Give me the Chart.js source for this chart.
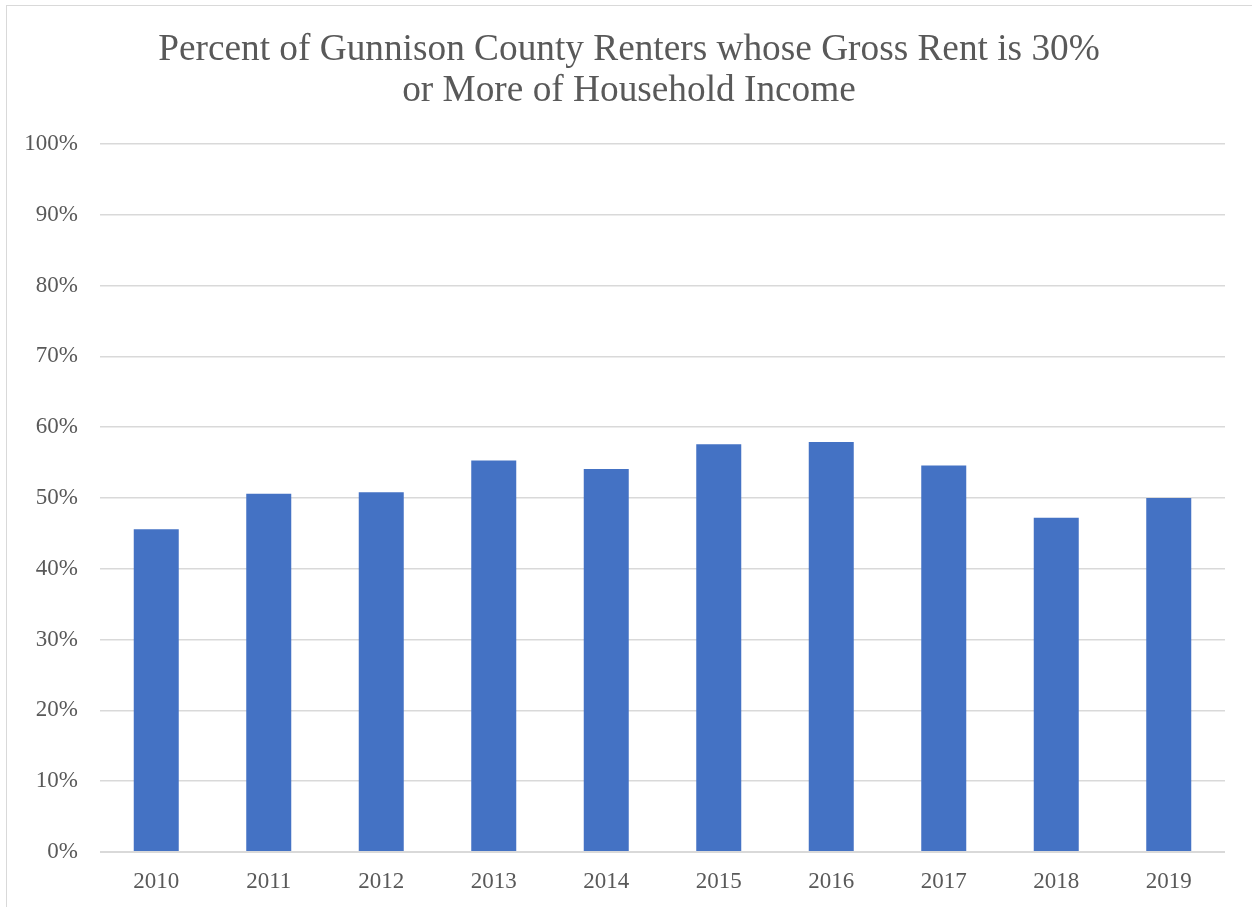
<!DOCTYPE html>
<html>
<head>
<meta charset="utf-8">
<script src="https://cdn.jsdelivr.net/npm/chart.js@4/dist/chart.umd.min.js"></script>
<style>
  html, body { margin: 0; padding: 0; background: #ffffff; overflow: hidden; }
  #frame { position: absolute; left: 6px; top: 5px; width: 1400px; height: 1100px; border: 1.5px solid #d9d9d9; box-sizing: border-box; }
  #wrap { position: absolute; left: 0; top: 0; width: 1252px; height: 907px; }
</style>
</head>
<body>
<div id="frame"></div>
<div id="wrap"><canvas id="c" width="1252" height="907"></canvas></div>
<script>
const titleLines = ["Percent of Gunnison County Renters whose Gross Rent is 30%", "or More of Household Income"];
const years = ["2010", "2011", "2012", "2013", "2014", "2015", "2016", "2017", "2018", "2019"];
const percentRenters = [45.6, 50.6, 50.8, 55.3, 54.1, 57.6, 57.9, 54.6, 47.2, 50.0];
const yTickStep = 10;
const yMax = 100;

const FONT = "'Liberation Serif', 'Times New Roman', serif";
const TEXT = '#595959';

new Chart(document.getElementById('c'), {
  type: 'bar',
  data: {
    labels: years,
    datasets: [{
      data: percentRenters,
      backgroundColor: '#4472C4',
      borderWidth: 0,
      categoryPercentage: 1.0,
      barPercentage: 0.4
    }]
  },
  options: {
    responsive: false,
    animation: false,
    devicePixelRatio: 1,
    layout: { padding: { left: 6, right: 0, top: 0, bottom: 0 } },
    plugins: {
      legend: { display: false },
      tooltip: { enabled: false },
      title: {
        display: true,
        text: titleLines,
        color: TEXT,
        font: { family: FONT, size: 37.3, weight: 'normal', lineHeight: 1.115 },
        padding: { top: 29, bottom: 31.8 }
      }
    },
    scales: {
      x: {
        grid: { display: false, drawTicks: false },
        border: { display: false },
        ticks: { color: TEXT, font: { family: FONT, size: 23 }, padding: 16 },
        afterFit: (s) => { s.height = 55; }
      },
      y: {
        min: 0,
        max: yMax,
        grid: {
          color: '#d9d9d9',
          lineWidth: (ctx) => (ctx.tick && ctx.tick.value === 0 ? 2 : 1.4),
          drawTicks: false
        },
        border: { display: false },
        ticks: {
          stepSize: yTickStep,
          color: TEXT,
          font: { family: FONT, size: 23 },
          padding: 22,
          callback: (v) => v + '%'
        },
        afterFit: (s) => { s.width = 94; }
      },
      rightSpace: {
        position: 'right',
        display: true,
        grid: { display: false, drawTicks: false },
        border: { display: false },
        ticks: { display: false },
        afterFit: (s) => { s.width = 27; }
      }
    }
  }
});
</script>
</body>
</html>
